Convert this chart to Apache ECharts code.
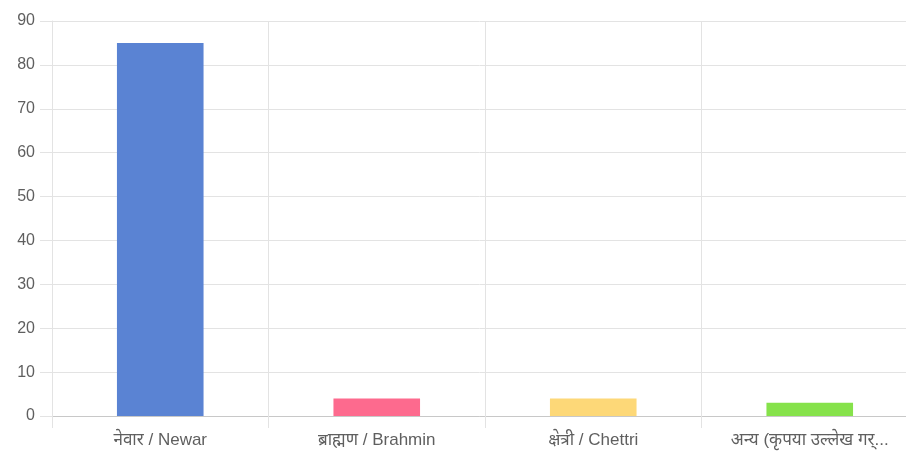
<!DOCTYPE html>
<html><head><meta charset="utf-8">
<script src="https://cdn.jsdelivr.net/npm/echarts@6/dist/echarts.min.js"></script>
<style>html,body{margin:0;padding:0;background:#fff}#c{width:906px;height:452px}</style>
</head><body><div id="c"></div>
<script>
const categories = ['नेवार / Newar', 'ब्राह्मण / Brahmin', 'क्षेत्री / Chettri', 'अन्य (कृपया उल्लेख गर्...'];
const values = [85, 4, 4, 3];
const colors = ['#5a83d3', '#fd6a8e', '#fdd878', '#86e24b'];
const yTicks = { min: 0, max: 90, interval: 10 };

const chart = echarts.init(document.getElementById('c'), null, { renderer: 'canvas' });
chart.setOption({
  animation: false,
  grid: { left: 52, top: 21, width: 866, height: 395, containLabel: false, outerBoundsMode: 'none' },
  xAxis: {
    type: 'category',
    data: categories,
    boundaryGap: true,
    axisLine: { show: true, lineStyle: { color: '#c8c8c8', width: 1 } },
    axisTick: { show: true, alignWithLabel: false, length: 12, lineStyle: { color: '#e3e3e3' } },
    splitLine: { show: true, lineStyle: { color: '#e3e3e3' } },
    axisLabel: { color: '#5f5f5f', fontSize: 17, margin: 16, fontFamily: '"Liberation Sans", "Noto Sans", sans-serif', interval: 0 }
  },
  yAxis: {
    type: 'value',
    min: yTicks.min, max: yTicks.max, interval: yTicks.interval,
    axisLine: { show: true, lineStyle: { color: '#e3e3e3' } },
    axisTick: { show: true, length: 12, lineStyle: { color: '#e3e3e3' } },
    splitLine: { show: true, lineStyle: { color: '#e3e3e3' } },
    axisLabel: { color: '#5f5f5f', fontSize: 16, margin: 17, fontFamily: '"Liberation Sans", sans-serif' }
  },
  series: [{
    type: 'bar',
    barWidth: '40%',
    data: values.map((v, i) => ({ value: v, itemStyle: { color: colors[i] } }))
  }]
});
</script></body></html>
